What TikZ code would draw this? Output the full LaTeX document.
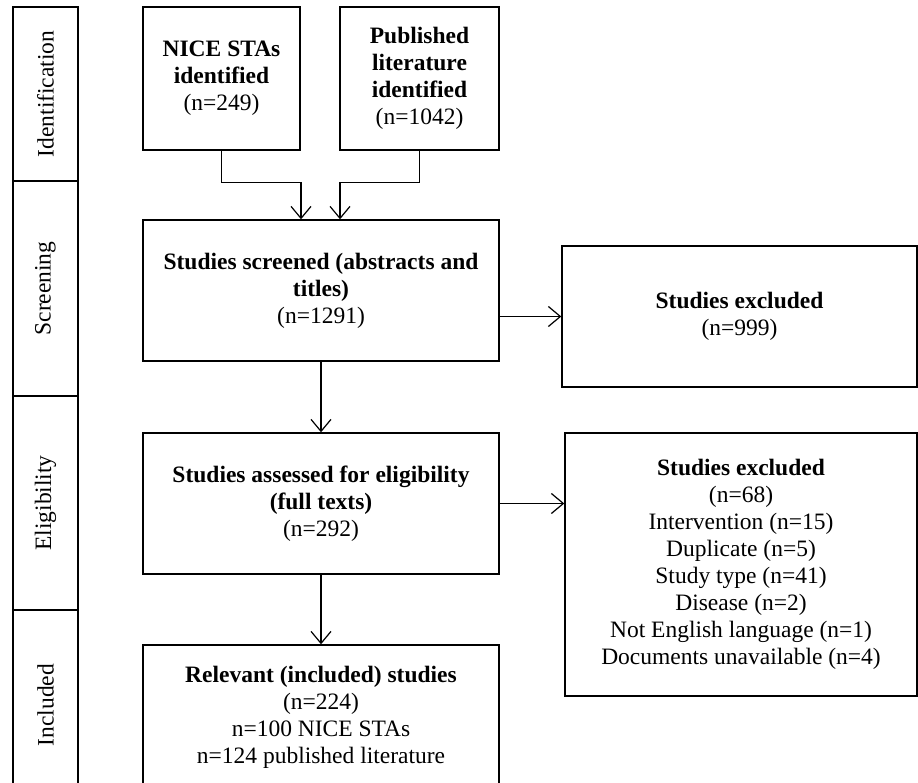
\documentclass[tikz,border=0pt]{standalone}
\usepackage{fontspec}
\setmainfont{Liberation Serif}
\usetikzlibrary{arrows.meta}
\begin{document}
\begin{tikzpicture}[x=1pt,y=-1pt,
  box/.style={draw, line width=1.4pt, align=center, inner sep=0pt,
    font=\fontsize{23.5}{27}\selectfont},
  stagecell/.style={draw, line width=1.4pt, rotate=90, inner sep=0pt,
    minimum height=65pt, font=\fontsize{23.5}{27}\selectfont},
  arr/.style={line width=1.2pt,
    -{Straight Barb[length=12pt,width=20pt,line width=1.2pt]}}]
\useasboundingbox (0,0) rectangle (918,783);
% stage bar
\node[stagecell, minimum width=174pt] (sid) at (45.5,94) {Identification};
\node[stagecell, minimum width=215pt] (ssc) at (45.5,288.5) {Screening};
\node[stagecell, minimum width=214pt] (sel) at (45.5,503) {Eligibility};
\node[stagecell, minimum width=190pt] (sin) at (45.5,705) {Included};
% boxes
\node[box, minimum width=157pt, minimum height=143pt] (nice) at (221.5,78.5)
  {\textbf{NICE STAs}\\\textbf{identified}\\(n=249)};
\node[box, minimum width=159pt, minimum height=143pt] (pub) at (419.5,78.5)
  {\textbf{Published}\\\textbf{literature}\\\textbf{identified}\\(n=1042)};
\node[box, minimum width=356pt, minimum height=141pt] (screen) at (321,290.5)
  {\textbf{Studies screened (abstracts and}\\\textbf{titles)}\\(n=1291)};
\node[box, minimum width=355pt, minimum height=141pt] (excl1) at (739.5,316.5)
  {\textbf{Studies excluded}\\(n=999)};
\node[box, minimum width=356pt, minimum height=141pt] (elig) at (321,503.5)
  {\textbf{Studies assessed for eligibility}\\\textbf{(full texts)}\\(n=292)};
\node[box, minimum width=352pt, minimum height=263pt] (excl2) at (741,564.5)
  {\textbf{Studies excluded}\\(n=68)\\Intervention (n=15)\\Duplicate (n=5)\\Study type (n=41)\\Disease (n=2)\\Not English language (n=1)\\Documents unavailable (n=4)};
\node[box, minimum width=356pt, minimum height=145pt] (incl) at (321,717.5)
  {\textbf{Relevant (included) studies}\\(n=224)\\n=100 NICE STAs\\n=124 published literature};
% connectors
\draw[arr] (nice.south) |- ([xshift=-20pt,yshift=37pt]screen.north) -- ([xshift=-20pt]screen.north);
\draw[arr] (pub.south) |- ([xshift=19pt,yshift=37pt]screen.north) -- ([xshift=19pt]screen.north);
\draw[arr] (excl1.west -| screen.east) -- (excl1.west);
\draw[arr] (screen.south) -- (elig.north);
\draw[arr] (elig.east) -- (elig.east -| excl2.west);
\draw[arr] (elig.south) -- (incl.north);
\end{tikzpicture}
\end{document}
